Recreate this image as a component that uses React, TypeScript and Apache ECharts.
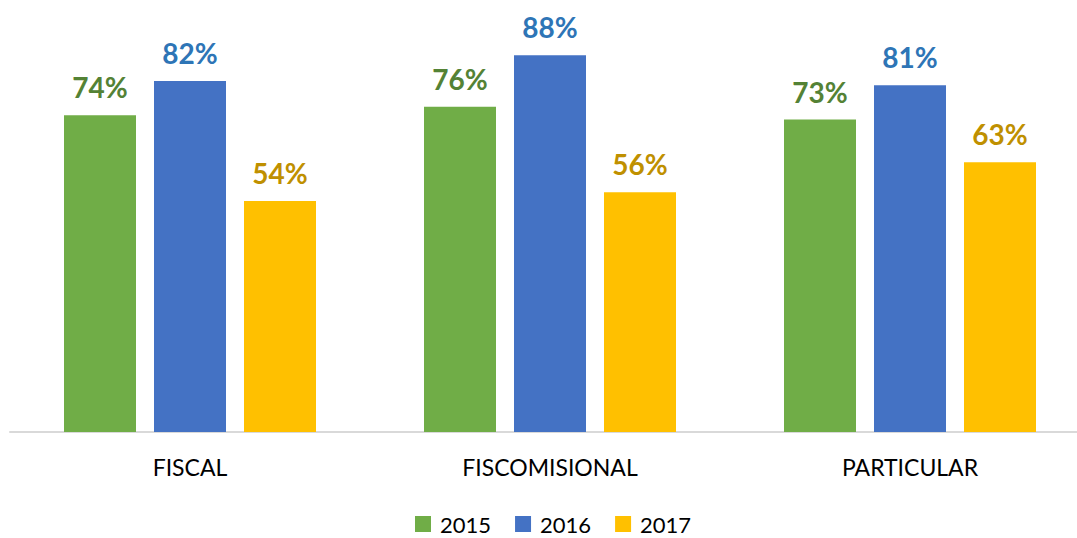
import React, { useEffect, useRef } from "react";
import * as echarts from "echarts";

const categories = ["FISCAL", "FISCOMISIONAL", "PARTICULAR"];
const years = ["2015", "2016", "2017"];
const values2015 = [74, 76, 73];
const values2016 = [82, 88, 81];
const values2017 = [54, 56, 63];
const barColors = ["#70AD47", "#4472C4", "#FFC000"];
const labelColors = ["#548235", "#2E75B6", "#BF9000"];

export default function App() {
  const ref = useRef<HTMLDivElement>(null);
  useEffect(() => {
    if (!ref.current) return;
    const chart = echarts.init(ref.current, null, { renderer: "svg" });
    const seriesData = [values2015, values2016, values2017];
    chart.setOption({
      animation: false,
      textStyle: { fontFamily: "Lato" },
      grid: { left: 10, right: 0, top: 4, bottom: 106 },
      legend: {
        left: 415,
        top: 513,
        padding: 0,
        itemWidth: 16,
        itemHeight: 16,
        itemGap: 24,
        icon: "rect",
        data: years,
        textStyle: {
          fontSize: 22,
          lineHeight: 18,
          color: "#000",
          fontFamily: "Lato",
          padding: [0, 0, 0, 4],
        },
      },
      xAxis: {
        type: "category",
        data: categories,
        axisLine: { show: true, lineStyle: { color: "#D9D9D9", width: 2 } },
        axisTick: { show: false },
        axisLabel: { fontSize: 23, color: "#000", margin: 23, fontFamily: "Lato" },
      },
      yAxis: { type: "value", min: 0, max: 100, show: false, splitLine: { show: false } },
      series: years.map((y, i) => ({
        name: y,
        type: "bar",
        data: seriesData[i],
        barGap: "25%",
        barCategoryGap: "30%",
        itemStyle: { color: barColors[i] },
        label: {
          show: true,
          position: "top",
          distance: 14,
          formatter: "{c}%",
          fontSize: 28,
          fontWeight: "bold",
          fontFamily: "Lato",
          color: labelColors[i],
        },
      })),
    });
    return () => chart.dispose();
  }, []);
  return (
    <div
      ref={ref}
      style={{ position: "fixed", left: 0, top: 0, width: 1090, height: 538, background: "#fff" }}
    />
  );
}
